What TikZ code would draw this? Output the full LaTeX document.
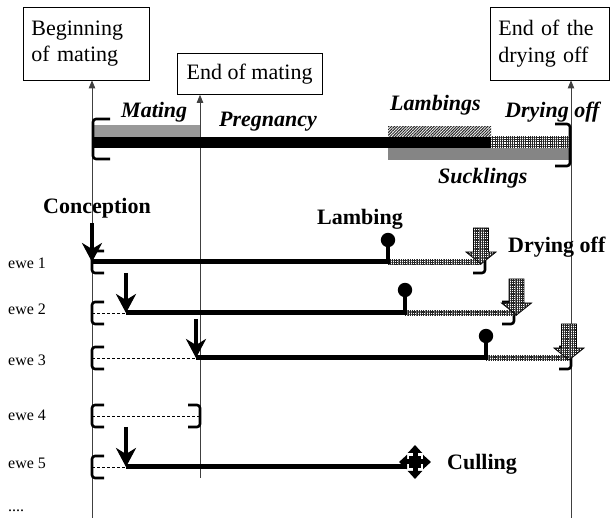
\documentclass[tikz,border=0pt]{standalone}
\usepackage{fontspec}
\setmainfont{Liberation Serif}
\usetikzlibrary{arrows.meta,patterns.meta,calc}
\begin{document}
\begin{tikzpicture}[x=1pt,y=-1pt,
  box/.style={draw, line width=0.8pt, anchor=north west, align=left, inner xsep=8pt, inner ysep=0pt, font=\fontsize{22}{26.4}\selectfont},
  vline/.style={line width=0.8pt, draw=black!75, -{Triangle[length=8pt,width=6.5pt]}},
  bl/.style={anchor=base west, inner sep=0pt, font=\fontsize{22}{26}\selectfont\bfseries},
  bil/.style={anchor=base west, inner sep=0pt, font=\fontsize{22}{26}\selectfont\bfseries\itshape},
  ewel/.style={anchor=base west, inner sep=0pt, font=\fontsize{16}{19}\selectfont},
  brk/.style={line width=2.6pt, rounded corners=3pt},
  dashln/.style={line width=0.6pt, dash pattern=on 3pt off 2pt},
  preg/.style={line width=5pt},
  stem/.style={line width=3.5pt},
  conc/.style={line width=4.5pt, -{Stealth[length=19pt,width=20pt,inset=6pt]}},
  chk/.style={preaction={fill=white}, pattern={Hatch[distance=1.8pt,line width=0.6pt]}, pattern color=black!85},
  lbrack/.pic={\draw[brk] (12,-11) -- (0,-11) -- (0,11) -- (12,11);},
  rbrack/.pic={\draw[brk] (-12,-11) -- (0,-11) -- (0,11) -- (-12,11);},
  dryarrow/.pic={\path[chk, draw=black, line width=0.8pt] (-7.5,-34) -- (7.5,-34) -- (7.5,-10) -- (15,-10) -- (0,2) -- (-15,-10) -- (-7.5,-10) -- cycle;},
]
\useasboundingbox (0,0) rectangle (611,518);

% boxes
\node[box, text width=110pt, minimum width=126pt, minimum height=73pt] (b1) at (23,6.6) {Beginning\\of mating};
\node[box, align=center, inner xsep=4pt, minimum width=145pt, minimum height=41pt] (b2) at (176.7,53) {End of mating};
\node[box, text width=102.5pt, minimum width=118.5pt, minimum height=73pt] (b3) at (490,6.6) {End of the\\drying off};

% vertical lines
\coordinate (v1) at (92,518);
\coordinate (v2) at (200,478);
\coordinate (v3) at (571,518);
\draw[vline] (v1) -- (v1 |- b1.south);
\draw[vline] (v2) -- (v2 |- b2.south);
\draw[vline] (v3) -- (v3 |- b3.south);

% top bar
\fill[black!40] (93,125) rectangle (200,137);
\fill[chk, pattern={Lines[angle=45,distance=2pt,line width=1pt]}, pattern color=black!85] (388,126.7) rectangle (491,137);
\fill[black] (93,137) rectangle (491,148.3);
\fill[chk, pattern={Hatch[distance=2.2pt,line width=0.8pt]}] (491,137) rectangle (570,148.3);
\fill[black!48] (388,148.3) rectangle (570,160);
\draw[brk] (110,119) -- (93,119) -- (93,159) -- (110,159);
\draw[brk] (555,124) -- (570,124) -- (570,166) -- (555,166);

\node[bil] (tmating) at (121,118) {Mating};
\node[bil] (tpreg) at (219,127) {Pregnancy};
\node[bil] (tlambs) at (390,111) {Lambings};
\node[bil] (tdry) at (505,118) {Drying off};
\node[bil] (tsuck) at (438,184) {Sucklings};

% labels
\node[bl] (lconc) at (43,214) {Conception};
\node[bl] (llamb) at (317,225) {Lambing};
\node[bl] (ldry) at (508,253) {Drying off};
\node[bl] (lcull) at (447,470) {Culling};

\node[ewel] (e1) at (8,269) {ewe 1};
\node[ewel] (e2) at (8,315) {ewe 2};
\node[ewel] (e3) at (8,366) {ewe 3};
\node[ewel] (e4) at (8,421) {ewe 4};
\node[ewel] (e5) at (8,469) {ewe 5};
\node[ewel] (edots) at (8,512) {....};

% ---- ewe 1 (y=262)
\coordinate (s1) at (92,262); \coordinate (c1t) at (92,223);
\coordinate (l1) at (388,262); \coordinate (k1) at (388,240);
\coordinate (d1) at (481,262);
\pic at (s1) {lbrack};
\pic at (485,262) {rbrack};
\fill[chk] ($(l1)+(0,-2.5)$) rectangle ($(d1)+(0,2.5)$);
\draw[preg] (s1) -- (l1);
\draw[stem] ($(l1)+(0,2)$) -- (k1);
\fill (k1) circle (7.2pt);
\draw[conc] (c1t) -- (s1);
\pic at (d1) {dryarrow};

% ---- ewe 2 (y=313)
\coordinate (s2) at (92,313); \coordinate (a2) at (126,313); \coordinate (c2t) at (126,273);
\coordinate (l2) at (405,313); \coordinate (k2) at (405,290);
\coordinate (d2) at (516.5,313);
\pic at (s2) {lbrack};
\pic at (514,313) {rbrack};
\draw[dashln] (s2) -- (a2);
\fill[chk] ($(l2)+(0,-2.5)$) rectangle ($(d2)+(0,2.5)$);
\draw[preg] (a2) -- (l2);
\draw[stem] ($(l2)+(0,2)$) -- (k2);
\fill (k2) circle (7.2pt);
\draw[conc] (c2t) -- (a2);
\pic at (d2) {dryarrow};

% ---- ewe 3 (y=358)
\coordinate (s3) at (92,358); \coordinate (a3) at (196,358); \coordinate (c3t) at (196,319);
\coordinate (l3) at (486,358); \coordinate (k3) at (486,336);
\coordinate (d3) at (569,358);
\pic at (s3) {lbrack};
\pic at (571,358) {rbrack};
\draw[dashln] (s3) -- (a3);
\fill[chk] ($(l3)+(0,-2.5)$) rectangle ($(d3)+(0,2.5)$);
\draw[preg] (a3) -- (l3);
\draw[stem] ($(l3)+(0,2)$) -- (k3);
\fill (k3) circle (7.2pt);
\draw[conc] (c3t) -- (a3);
\pic at (d3) {dryarrow};

% ---- ewe 4 (y=416)
\coordinate (s4) at (92,416); \coordinate (f4) at (200,416);
\pic at (s4) {lbrack};
\pic at (f4) {rbrack};
\draw[dashln] (s4) -- (f4);

% ---- ewe 5 (y=467)
\coordinate (s5) at (92,467); \coordinate (a5) at (126,467); \coordinate (c5t) at (126,427);
\coordinate (u5) at (407,467); \coordinate (x5) at (415,462);
\pic at (s5) {lbrack};
\draw[dashln] (s5) -- (a5);
\draw[preg] (a5) -- (u5);
\draw[conc] (c5t) -- (a5);
\fill ($(x5)+(-6,-6)$) rectangle ($(x5)+(6,6)$);
\foreach \dx/\dy in {0/-1,0/1,-1/0,1/0}
  \draw[line width=5pt, -{Triangle[length=8pt,width=14pt]}] (x5) -- ++(16*\dx,17*\dy);
\end{tikzpicture}
\end{document}
